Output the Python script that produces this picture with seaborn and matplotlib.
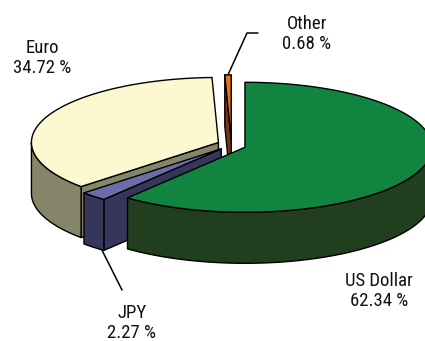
import numpy as np
import matplotlib
matplotlib.use("Agg")
import matplotlib.pyplot as plt
from matplotlib.patches import Polygon
import seaborn as sns

# Currency shares (percent), in clockwise order from 12 o'clock
currencies = ["US Dollar", "JPY", "Euro", "Other"]
shares = [62.34, 2.27, 34.72, 0.68]

top_colors = ["#11843F", "#6C6CA8", "#FCF8D0", "#E8731A"]
side_colors = ["#213F1E", "#36365A", "#85856A", "#7A3410"]

sns.set_theme(style="white")
plt.rcParams["font.family"] = ["Roboto Condensed", "DejaVu Sans"]

# 3-D pie geometry (canvas pixel units)
CX, CY = 231.5, 145.0
A, B = 187.0, 65.0
DEPTH = 51.0
EXPLODE = 0.08
SQUASH = np.deg2rad(5.5)   # steepens the diagonal cut lines of the oblique view


def proj_angle(t):
    return t - SQUASH * np.sin(2 * t)


def rim_point(t, ox, oy, z=0.0):
    p = proj_angle(t)
    return np.array([CX + ox + A * np.sin(p), CY + oy - B * np.cos(p) + z])


fig = plt.figure(figsize=(4.25, 3.41), dpi=100)
ax = fig.add_axes([0, 0, 1, 1])
ax.set_xlim(0, 425)
ax.set_ylim(341, 0)
ax.axis("off")

frac = np.array(shares) / np.sum(shares)
edges = np.concatenate([[0.0], np.cumsum(frac)]) * 2 * np.pi

slices = []
for i, name in enumerate(currencies):
    t1, t2 = edges[i], edges[i + 1]
    mid = proj_angle((t1 + t2) / 2)
    ox, oy = A * EXPLODE * np.sin(mid), -B * EXPLODE * np.cos(mid)
    slices.append((i, t1, t2, ox, oy))

# back-to-front drawing order
order = [3, 2, 1, 0]
kw = dict(edgecolor="black", linewidth=1.0, joinstyle="round")
for i in order:
    _, t1, t2, ox, oy = slices[i]
    z0 = order.index(i) * 3
    apex = np.array([CX + ox, CY + oy])
    down = np.array([0, DEPTH])
    # radial side faces that face the viewer
    for t, visible in ((t1, np.sin(t1) < -1e-9), (t2, np.sin(t2) > 1e-9)):
        if visible:
            c = rim_point(t, ox, oy)
            ax.add_patch(Polygon([apex, c, c + down, apex + down],
                                 facecolor=side_colors[i], zorder=1 + z0, **kw))
    # curved outer wall on the near half
    s, e = max(t1, np.pi / 2), min(t2, 3 * np.pi / 2)
    if e > s:
        ts = np.linspace(s, e, 120)
        topc = np.array([rim_point(t, ox, oy) for t in ts])
        wall = np.vstack([topc, (topc + down)[::-1]])
        ax.add_patch(Polygon(wall, facecolor=side_colors[i], zorder=2 + z0, **kw))
    # top face
    ts = np.linspace(t1, t2, max(int(200 * (t2 - t1)), 4))
    arc = np.array([rim_point(t, ox, oy) for t in ts])
    ax.add_patch(Polygon(np.vstack([apex, arc]), facecolor=top_colors[i],
                         zorder=3 + z0, **kw))

# data labels
label_pos = {"US Dollar": (379, 291), "JPY": (132, 323),
             "Euro": (42, 58), "Other": (307, 34)}
for name, val in zip(currencies, shares):
    x, y = label_pos[name]
    ax.text(x, y, f"{name}\n{val:.2f} %", ha="center", va="center",
            fontsize=13.5, color="#111111", linespacing=1.1, zorder=20)

# leader lines
_, t1, t2, ox, oy = slices[3]
p = rim_point((t1 + t2) / 2, ox, oy)
ax.plot([258, 247, p[0]], [33, 33, p[1]], color="black", lw=1.1, zorder=20)
_, t1, t2, ox, oy = slices[1]
p = rim_point(t1 + (t2 - t1) * 0.1, ox, oy, DEPTH)
ax.plot([p[0], 122], [p[1], 290], color="black", lw=1.1, zorder=20)

fig.savefig("out.png", dpi=100)
